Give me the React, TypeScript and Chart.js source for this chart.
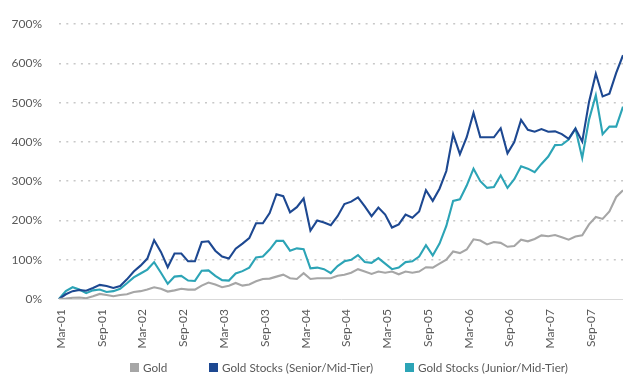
import React, { useEffect, useRef } from 'react';
import { Chart, registerables } from 'chart.js';

Chart.register(...registerables);

const LABELS = [
  'Mar-01', 'Apr-01', 'May-01', 'Jun-01', 'Jul-01', 'Aug-01', 'Sep-01', 'Oct-01', 'Nov-01', 'Dec-01',
  'Jan-02', 'Feb-02', 'Mar-02', 'Apr-02', 'May-02', 'Jun-02', 'Jul-02', 'Aug-02', 'Sep-02', 'Oct-02', 'Nov-02', 'Dec-02',
  'Jan-03', 'Feb-03', 'Mar-03', 'Apr-03', 'May-03', 'Jun-03', 'Jul-03', 'Aug-03', 'Sep-03', 'Oct-03', 'Nov-03', 'Dec-03',
  'Jan-04', 'Feb-04', 'Mar-04', 'Apr-04', 'May-04', 'Jun-04', 'Jul-04', 'Aug-04', 'Sep-04', 'Oct-04', 'Nov-04', 'Dec-04',
  'Jan-05', 'Feb-05', 'Mar-05', 'Apr-05', 'May-05', 'Jun-05', 'Jul-05', 'Aug-05', 'Sep-05', 'Oct-05', 'Nov-05', 'Dec-05',
  'Jan-06', 'Feb-06', 'Mar-06', 'Apr-06', 'May-06', 'Jun-06', 'Jul-06', 'Aug-06', 'Sep-06', 'Oct-06', 'Nov-06', 'Dec-06',
  'Jan-07', 'Feb-07', 'Mar-07', 'Apr-07', 'May-07', 'Jun-07', 'Jul-07', 'Aug-07', 'Sep-07', 'Oct-07', 'Nov-07', 'Dec-07',
  'Jan-08', 'Feb-08',
];

const GOLD = [
  0, 1, 3, 4, 2, 7, 13, 10, 7, 10,
  12, 18, 20, 24, 30, 26, 19, 22, 26, 24,
  24, 34, 42, 37, 30, 34, 41, 34, 37, 45,
  51, 52, 57, 62, 53, 51, 66, 51, 53, 53,
  53, 59, 62, 67, 76, 70, 64, 70, 67, 70,
  63, 70, 67, 70, 81, 80, 90, 100, 121, 117,
  126, 152, 149, 139, 145, 143, 133, 135, 151, 147,
  153, 162, 160, 163, 157, 151, 159, 162, 190, 209,
  204, 223, 260, 277,
];

const SENIOR = [
  0, 12, 20, 23, 21, 28, 36, 33, 28, 33,
  50, 70, 85, 103, 150, 120, 81, 116, 116, 96,
  96, 145, 147, 123, 108, 103, 128, 141, 155, 193,
  193, 219, 267, 262, 221, 234, 256, 174, 200, 195,
  188, 211, 242, 248, 259, 236, 211, 233, 215, 182,
  190, 215, 207, 223, 277, 250, 281, 326, 420, 369,
  412, 474, 412, 412, 412, 435, 371, 400, 456, 431,
  426, 433, 426, 427, 420, 408, 434, 401, 502, 574,
  516, 523, 576, 621,
];

const JUNIOR = [
  0, 20, 30, 24, 15, 22, 24, 18, 20, 26,
  40, 55, 65, 75, 94, 67, 39, 57, 59, 47,
  46, 72, 73, 59, 48, 47, 65, 71, 80, 106,
  108, 126, 148, 148, 123, 129, 127, 78, 80, 76,
  66, 84, 96, 100, 112, 94, 92, 104, 90, 76,
  80, 94, 96, 108, 137, 111, 141, 186, 250, 254,
  289, 332, 300, 283, 285, 315, 283, 305, 338, 332,
  323, 344, 363, 392, 393, 406, 434, 359, 457, 519,
  420, 439, 439, 490,
];

const SERIES_NAMES = ['Gold', 'Gold Stocks (Senior/Mid-Tier)', 'Gold Stocks (Junior/Mid-Tier)'];
const SERIES_COLORS = ['#a6a6a6', '#1d4891', '#2ca4b6'];
const SERIES_DATA = [GOLD, SENIOR, JUNIOR];
const LEGEND_X = [130, 209, 405];

const Y_TICKS = [0, 100, 200, 300, 400, 500, 600, 700];

const FONT_FAMILY = 'Lato, "Noto Sans", sans-serif';
const TEXT_COLOR = '#595959';

export default function App() {
  const ref = useRef<HTMLCanvasElement>(null);

  useEffect(() => {
    const canvas = ref.current;
    if (!canvas) return;
    const chart = new Chart(canvas, {
      type: 'line',
      data: {
        labels: LABELS,
        datasets: SERIES_DATA.map((d, i) => ({
          label: SERIES_NAMES[i],
          data: d,
          borderColor: SERIES_COLORS[i],
          backgroundColor: SERIES_COLORS[i],
          borderWidth: 2.1,
          pointRadius: 0,
          tension: 0,
          fill: false,
        })),
      },
      options: {
        animation: false,
        responsive: false,
        devicePixelRatio: 1,
        layout: { padding: { top: 15, left: 0, right: 0, bottom: 0 } },
        plugins: {
          legend: { display: false },
          tooltip: { enabled: false },
        },
        scales: {
          x: {
            grid: { display: true, drawOnChartArea: false, drawTicks: false },
            border: { display: true, color: '#d9d9d9', width: 1 },
            ticks: {
              autoSkip: false,
              minRotation: 90,
              maxRotation: 90,
              padding: 10,
              labelOffset: 2,
              color: TEXT_COLOR,
              font: { family: FONT_FAMILY, size: 12 },
              callback: (_v: any, i: number) => (i % 6 === 0 ? LABELS[i] : ''),
            },
            afterFit: (s: any) => {
              s.height = 80;
              s.paddingLeft = 0;
              s.paddingRight = 0;
            },
          },
          y: {
            min: Y_TICKS[0],
            max: Y_TICKS[Y_TICKS.length - 1],
            ticks: {
              stepSize: 100,
              padding: 17,
              color: TEXT_COLOR,
              font: { family: FONT_FAMILY, size: 12 },
              callback: (v: any) => v + '%',
            },
            grid: {
              drawTicks: false,
              lineWidth: 1.5,
              color: (ctx: any) => (ctx.tick && ctx.tick.value === 0 ? 'rgba(0,0,0,0)' : '#c8c8c8'),
            },
            border: { display: false, dash: [2, 5.3] },
            afterFit: (s: any) => {
              s.width = 59;
            },
          },
        },
      },
    });
    return () => chart.destroy();
  }, []);

  return (
    <div style={{ position: 'absolute', left: 0, top: 0, width: 623, height: 379, background: '#fff' }}>
      <canvas ref={ref} width={623} height={379} style={{ position: 'absolute', left: 0, top: 0 }} />
      {SERIES_NAMES.map((name, i) => (
        <div
          key={name}
          style={{
            position: 'absolute',
            left: LEGEND_X[i],
            top: 359,
            height: 16,
            display: 'flex',
            alignItems: 'center',
            whiteSpace: 'nowrap',
            fontFamily: FONT_FAMILY,
            fontSize: 11.7,
            color: TEXT_COLOR,
          }}
        >
          <span style={{ display: 'inline-block', width: 9, height: 9, background: SERIES_COLORS[i], marginRight: 4 }} />
          <span>{name}</span>
        </div>
      ))}
    </div>
  );
}
